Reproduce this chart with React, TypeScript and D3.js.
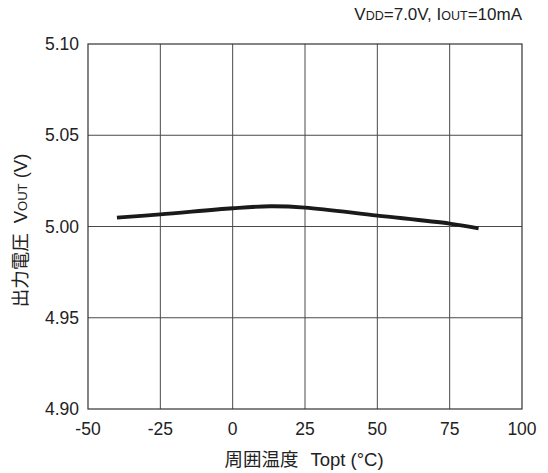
import React from "react";
import * as d3 from "d3";

const temps = [-40, -25, 0, 13, 25, 50, 75, 85];
const vout = [5.0049, 5.0066, 5.0100, 5.0111, 5.0104, 5.0060, 5.0016, 4.9990];
const xTicks = [-50, -25, 0, 25, 50, 75, 100];
const yTicks = [4.9, 4.95, 5.0, 5.05, 5.1];

const W = 548;
const H = 473;
const M = { left: 88, right: 26, top: 44, bottom: 64 };
const FONT = "'Liberation Sans', Arial, 'Noto Sans CJK JP', sans-serif";
const CJK = "'Noto Sans CJK JP', sans-serif";
const INK = "#222222";

export default function App() {
  const x = d3.scaleLinear().domain([-50, 100]).range([M.left, W - M.right]);
  const y = d3.scaleLinear().domain([4.9, 5.1]).range([H - M.bottom, M.top]);
  const line = d3
    .line<number>()
    .x((_, i) => x(temps[i]))
    .y((d) => y(d))
    .curve(d3.curveCatmullRom.alpha(0.5));

  return (
    <svg
      width={W}
      height={H}
      style={{ position: "absolute", left: 0, top: 0, background: "#fff" }}
      fontFamily={FONT}
    >
      {xTicks.slice(1, -1).map((t) => (
        <line key={"gx" + t} x1={x(t)} x2={x(t)} y1={y(4.9)} y2={y(5.1)} stroke="#4a4a4a" strokeWidth={1} />
      ))}
      {yTicks.slice(1, -1).map((t) => (
        <line key={"gy" + t} x1={x(-50)} x2={x(100)} y1={y(t)} y2={y(t)} stroke="#4a4a4a" strokeWidth={1} />
      ))}
      <rect
        x={x(-50)}
        y={y(5.1)}
        width={x(100) - x(-50)}
        height={y(4.9) - y(5.1)}
        fill="none"
        stroke="#333"
        strokeWidth={1.2}
      />
      <path d={line(vout) || ""} fill="none" stroke="#1a1a1a" strokeWidth={3.8} />
      {xTicks.map((t) => (
        <text key={"tx" + t} x={x(t)} y={y(4.9) + 26} textAnchor="middle" fontSize={17.5} fill={INK}>
          {t}
        </text>
      ))}
      {yTicks.map((t) => (
        <text key={"ty" + t} x={x(-50) - 9} y={y(t) + 6} textAnchor="end" fontSize={17.5} fill={INK}>
          {t.toFixed(2)}
        </text>
      ))}
      <text x={W - M.right} y={20} textAnchor="end" fontSize={17} fill={INK}>
        V<tspan fontSize={12.5}>DD</tspan>=7.0V, I<tspan fontSize={12.5}>OUT</tspan>=10mA
      </text>
      <text x={304} y={466} textAnchor="middle" fontSize={18.5} fill={INK}>
        <tspan fontFamily={CJK} fill={INK}>周囲温度</tspan>
        <tspan dx={12} fill={INK}>Topt (°C)</tspan>
      </text>
      <text
        transform={`translate(27, ${(y(4.9) + y(5.1)) / 2 + 4}) rotate(-90)`}
        textAnchor="middle"
        fontSize={18.5}
        fill={INK}
      >
        <tspan fontFamily={CJK} fill={INK}>出力電圧</tspan>
        <tspan dx={10} fill={INK}>V</tspan>
        <tspan fontSize={13} fill={INK}>OUT</tspan>
        <tspan fill={INK}> (V)</tspan>
      </text>
    </svg>
  );
}
